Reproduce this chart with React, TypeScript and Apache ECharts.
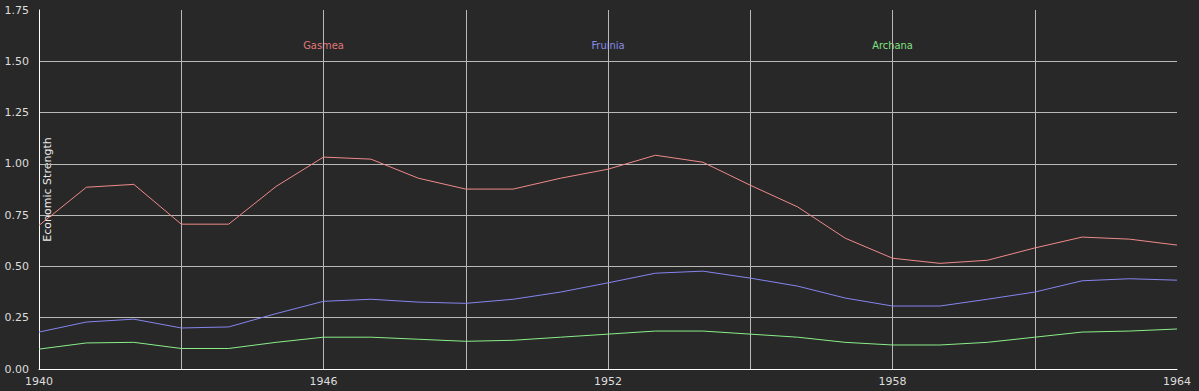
import React, { useEffect, useRef } from "react";
import * as echarts from "echarts";

const years = [
  "1940", "1941", "1942", "1943", "1944", "1945", "1946", "1947", "1948",
  "1949", "1950", "1951", "1952", "1953", "1954", "1955", "1956", "1957",
  "1958", "1959", "1960", "1961", "1962", "1963", "1964",
];

const gasmea = [
  0.70, 0.886, 0.90, 0.706, 0.706, 0.89, 1.033, 1.023, 0.93,
  0.877, 0.877, 0.93, 0.974, 1.042, 1.008, 0.896, 0.79, 0.638,
  0.54, 0.515, 0.53, 0.59, 0.643, 0.633, 0.604,
];

const fruinia = [
  0.18, 0.229, 0.243, 0.20, 0.205, 0.27, 0.33, 0.34, 0.326,
  0.32, 0.34, 0.375, 0.42, 0.467, 0.477, 0.443, 0.404, 0.346,
  0.307, 0.307, 0.34, 0.375, 0.43, 0.44, 0.433,
];

const archana = [
  0.097, 0.127, 0.13, 0.10, 0.10, 0.13, 0.155, 0.155, 0.145,
  0.135, 0.14, 0.155, 0.17, 0.185, 0.185, 0.17, 0.155, 0.13,
  0.117, 0.117, 0.13, 0.155, 0.18, 0.185, 0.195,
];

const seriesNames = ["Gasmea", "Fruinia", "Archana"];
const lineColors = ["#f08a8a", "#8585f0", "#8aee8a"];
const legendColors = ["#e07878", "#8a8ae6", "#80e080"];
const legendYears = ["1946", "1952", "1958"];
const yAxisTitle = "Economic Strength";

export default function App() {
  const ref = useRef<HTMLDivElement>(null);
  useEffect(() => {
    if (!ref.current) return;
    const chart = echarts.init(ref.current, null, { renderer: "svg" });
    const gridLeft = 39;
    const gridRight = 22;
    const gridTop = 10;
    const gridBottom = 22;
    const width = 1199;
    const height = 391;
    const plotW = width - gridLeft - gridRight;
    const values = [gasmea, fruinia, archana];
    chart.setOption({
      animation: false,
      backgroundColor: "#282828",
      grid: {
        left: gridLeft,
        right: gridRight,
        top: gridTop,
        bottom: gridBottom,
        containLabel: false,
        outerBoundsMode: "none",
      },
      graphic: [
        ...seriesNames.map((n, i) => ({
          type: "text",
          x: gridLeft + (plotW * years.indexOf(legendYears[i])) / (years.length - 1),
          y: 45,
          style: {
            text: n,
            fill: legendColors[i],
            font: "11px 'DejaVu Sans Condensed', 'DejaVu Sans', sans-serif",
            textAlign: "center",
            textVerticalAlign: "middle",
          },
        })),
        {
          type: "text",
          x: 47,
          y: (gridTop + height - gridBottom) / 2,
          rotation: Math.PI / 2,
          style: {
            text: yAxisTitle,
            fill: "#e8e8e8",
            font: "11px 'DejaVu Sans', sans-serif",
            textAlign: "center",
            textVerticalAlign: "middle",
          },
        },
      ],
      xAxis: {
        type: "category",
        data: years,
        boundaryGap: false,
        axisLine: { lineStyle: { color: "#ffffff", width: 1 } },
        axisTick: { show: false },
        axisLabel: {
          interval: (i: number) => i % 6 === 0,
          color: "#dddddd",
          fontFamily: "'DejaVu Sans', sans-serif",
          fontSize: 11,
          margin: 7,
          showMaxLabel: true,
        },
        splitLine: {
          show: true,
          interval: (i: number) => i % 3 === 0 && i > 0 && i < years.length - 1,
          lineStyle: { color: "#b8b8b8", width: 1 },
        },
      },
      yAxis: {
        type: "value",
        min: 0,
        max: 1.75,
        interval: 0.25,
        axisLine: { show: true, lineStyle: { color: "#ffffff", width: 1 } },
        axisTick: { show: false },
        axisLabel: {
          color: "#dddddd",
          fontFamily: "'DejaVu Sans', sans-serif",
          fontSize: 11,
          margin: 10,
          formatter: (v: number) => v.toFixed(2),
        },
        splitLine: {
          show: true,
          showMinLine: false,
          showMaxLine: false,
          lineStyle: { color: "#b8b8b8", width: 1 },
        },
      },
      series: seriesNames.map((n, i) => ({
        name: n,
        type: "line",
        data: values[i],
        symbol: "none",
        lineStyle: { color: lineColors[i], width: 1 },
        itemStyle: { color: lineColors[i] },
      })),
    });
    return () => chart.dispose();
  }, []);
  return <div ref={ref} style={{ width: 1199, height: 391, position: "absolute", left: 0, top: 0 }} />;
}
